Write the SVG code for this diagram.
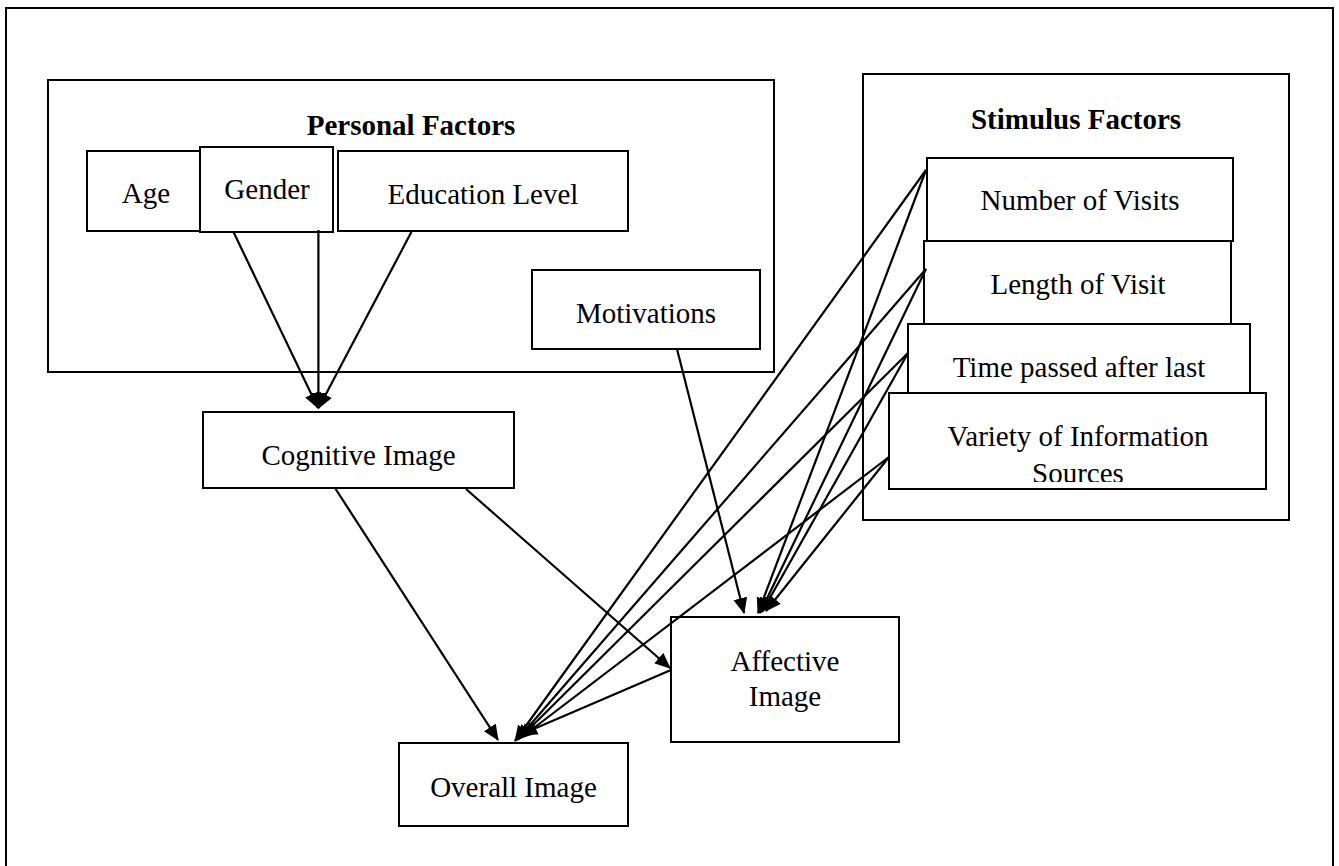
<svg xmlns="http://www.w3.org/2000/svg" width="1339" height="866" viewBox="0 0 1339 866">
  <style>
    .frame { fill: none; stroke: #000; stroke-width: 2; }
    .box { fill: #fff; stroke: #000; stroke-width: 2; }
    .lbl { font-family: "Liberation Serif", "Times New Roman", serif; font-size: 29px; fill: #000; text-anchor: middle; }
    .ttl { font-family: "Liberation Serif", "Times New Roman", serif; font-size: 29px; font-weight: bold; fill: #000; text-anchor: middle; }
    .edge { fill: none; stroke: #000; stroke-width: 2.2; marker-end: url(#head); }
  </style>
  <defs>
    <marker id="head" markerUnits="userSpaceOnUse" markerWidth="18" markerHeight="16" refX="15" refY="7" orient="auto">
      <path d="M0,0 L16,7 L0,14 Z" fill="#000"/>
    </marker>
    <clipPath id="varietyClip">
      <rect x="890" y="394" width="375" height="88"/>
    </clipPath>
  </defs>

  <rect width="1339" height="866" fill="#fff"/>

  <!-- page frame, open at the bottom -->
  <path class="frame" d="M6,870 L6,8 L1333,8 L1333,870"/>

  <!-- personal factors container -->
  <g id="personal-factors">
    <rect class="box" x="48" y="80" width="726" height="292"/>
    <text class="ttl" x="411" y="135">Personal Factors</text>
  </g>

  <g id="age">
    <rect class="box" x="87" y="151" width="117" height="80"/>
    <text class="lbl" x="146" y="203">Age</text>
  </g>

  <g id="gender">
    <rect class="box" x="200" y="147" width="133" height="85"/>
    <text class="lbl" x="267" y="199">Gender</text>
  </g>

  <g id="education-level">
    <rect class="box" x="338" y="151" width="290" height="80"/>
    <text class="lbl" x="483" y="204">Education Level</text>
  </g>

  <g id="motivations">
    <rect class="box" x="532" y="270" width="228" height="79"/>
    <text class="lbl" x="646" y="323">Motivations</text>
  </g>

  <!-- stimulus factors container -->
  <g id="stimulus-factors">
    <rect class="box" x="863" y="74" width="426" height="446"/>
    <text class="ttl" x="1076" y="129">Stimulus Factors</text>
  </g>

  <g id="number-of-visits">
    <rect class="box" x="927" y="158" width="306" height="83"/>
    <text class="lbl" x="1080" y="210">Number of Visits</text>
  </g>

  <g id="length-of-visit">
    <rect class="box" x="924" y="241" width="307" height="83"/>
    <text class="lbl" x="1078" y="294">Length of Visit</text>
  </g>

  <g id="time-passed">
    <rect class="box" x="908" y="324" width="342" height="90"/>
    <text class="lbl" x="1079" y="377">Time passed after last</text>
  </g>

  <g id="variety-of-sources">
    <rect class="box" x="889" y="393" width="377" height="96"/>
    <g clip-path="url(#varietyClip)">
      <text class="lbl" x="1078" y="446">Variety of Information</text>
      <text class="lbl" x="1078" y="483">Sources</text>
    </g>
  </g>

  <g id="cognitive-image">
    <rect class="box" x="203" y="412" width="311" height="76"/>
    <text class="lbl" x="358.5" y="465">Cognitive Image</text>
  </g>

  <g id="affective-image">
    <rect class="box" x="671" y="617" width="228" height="125"/>
    <text class="lbl" x="785" y="671">Affective</text>
    <text class="lbl" x="785" y="706">Image</text>
  </g>

  <g id="overall-image">
    <rect class="box" x="399" y="743" width="229" height="83"/>
    <text class="lbl" x="513.5" y="797">Overall Image</text>
  </g>

  <!-- connectors -->
  <g id="connectors">
    <line class="edge" x1="233.5" y1="232" x2="318" y2="408"/>
    <line class="edge" x1="318.4" y1="230" x2="318.4" y2="408"/>
    <line class="edge" x1="411.4" y1="232" x2="318.6" y2="408"/>

    <line class="edge" x1="677" y1="349" x2="744" y2="613"/>

    <line class="edge" x1="335" y1="488" x2="498" y2="740"/>
    <line class="edge" x1="466" y1="489" x2="670" y2="668"/>
    <line class="edge" x1="671" y1="670" x2="522" y2="734"/>

    <line class="edge" x1="926" y1="170" x2="515" y2="741"/>
    <line class="edge" x1="926" y1="269" x2="517" y2="740"/>
    <line class="edge" x1="908" y1="353" x2="519" y2="739"/>
    <line class="edge" x1="889" y1="457" x2="522" y2="737"/>

    <line class="edge" x1="926" y1="170" x2="758" y2="613"/>
    <line class="edge" x1="926" y1="269" x2="760" y2="613"/>
    <line class="edge" x1="908" y1="353" x2="762" y2="612"/>
    <line class="edge" x1="889" y1="457" x2="766" y2="611"/>
  </g>
</svg>
